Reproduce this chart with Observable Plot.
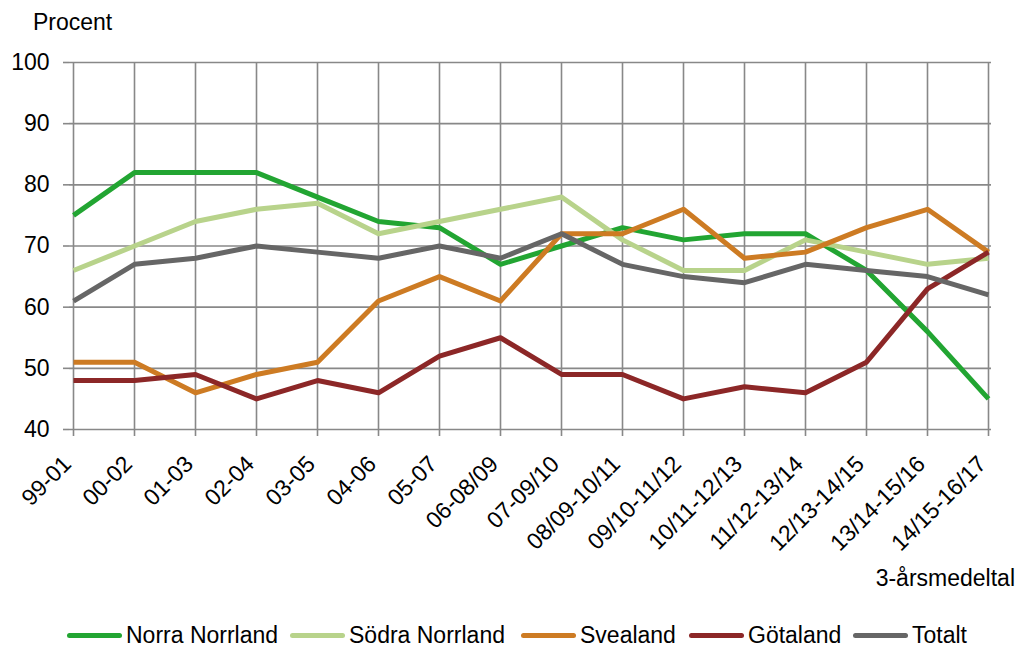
<!DOCTYPE html>
<html>
<head>
<meta charset="utf-8">
<script src="https://cdn.jsdelivr.net/npm/d3@7"></script>
<script src="https://cdn.jsdelivr.net/npm/@observablehq/plot@0.6"></script>
<style>
  html, body { margin: 0; padding: 0; background: #fff; }
  #wrap { position: relative; width: 1019px; height: 649px; font-family: "Liberation Sans", Arial, sans-serif; color: #000; overflow: hidden; }
  #chart { position: absolute; left: 0; top: 0; }
  .lbl { position: absolute; font-size: 23px; line-height: 23px; white-space: nowrap; }
  .item { position: absolute; top: 624px; height: 23px; display: flex; align-items: center; font-size: 23px; line-height: 23px; white-space: nowrap; }
  .sw { width: 55px; height: 5px; border-radius: 2.5px; margin-right: 4px; }
</style>
</head>
<body>
<div id="wrap">
  <div id="chart"></div>
  <div class="lbl" style="left:33px; top:11px;">Procent</div>
  <div class="lbl" style="right:4px; top:567px;">3-årsmedeltal</div>
  <div id="legend"></div>
</div>
<script>
const categories = ["99-01","00-02","01-03","02-04","03-05","04-06","05-07","06-08/09","07-09/10","08/09-10/11","09/10-11/12","10/11-12/13","11/12-13/14","12/13-14/15","13/14-15/16","14/15-16/17"];
const seriesNames = ["Norra Norrland","Södra Norrland","Svealand","Götaland","Totalt"];
const seriesColors = ["#22a532","#b8d38b","#cd7b23","#8c2727","#666666"];
const norraNorrland = [75,82,82,82,78,74,73,67,70,73,71,72,72,66,56,45];
const sodraNorrland = [66,70,74,76,77,72,74,76,78,71,66,66,71,69,67,68];
const svealand      = [51,51,46,49,51,61,65,61,72,72,76,68,69,73,76,69];
const gotaland      = [48,48,49,45,48,46,52,55,49,49,45,47,46,51,63,69];
const totalt        = [61,67,68,70,69,68,70,68,72,67,65,64,67,66,65,62];
const yTicks = [40,50,60,70,80,90,100];
const legendLeft = [67,290,521,689,853];

const seriesValues = [norraNorrland, sodraNorrland, svealand, gotaland, totalt];
const data = seriesNames.flatMap((name, i) =>
  seriesValues[i].map((v, j) => ({series: name, period: categories[j], value: v}))
);

const gridColor = "#888888";
const chart = Plot.plot({
  width: 1019,
  height: 600,
  marginTop: 62,
  marginLeft: 69,
  marginRight: 28,
  marginBottom: 171,
  style: {fontFamily: "'Liberation Sans', Arial, sans-serif", fontSize: "23px", color: "#000", background: "transparent"},
  x: {type: "point", domain: categories, padding: 0, label: null},
  y: {domain: [40, 100], label: null},
  color: {domain: seriesNames, range: seriesColors},
  marks: [
    Plot.gridY(yTicks, {stroke: gridColor, strokeOpacity: 1, strokeWidth: 1.6}),
    Plot.gridX(categories, {stroke: gridColor, strokeOpacity: 1, strokeWidth: 1.6}),
    Plot.axisY(yTicks, {tickSize: 6, tickPadding: 14, stroke: gridColor, strokeWidth: 1.6, fill: "#000", fontSize: 23, label: null}),
    Plot.axisX(categories, {tickSize: 7, tickFormat: () => "", stroke: gridColor, strokeWidth: 1.6, label: null}),
    Plot.text(categories, {x: d => d, frameAnchor: "bottom", dx: -1, dy: 36, rotate: -45, textAnchor: "end", lineAnchor: "bottom", fontSize: 23, fill: "#000"}),
    Plot.line(data, {x: "period", y: "value", stroke: "series", strokeWidth: 5, strokeLinejoin: "round", strokeLinecap: "butt"})
  ]
});
document.getElementById("chart").appendChild(chart);

const legend = document.getElementById("legend");
seriesNames.forEach((name, i) => {
  const item = document.createElement("div");
  item.className = "item";
  item.style.left = legendLeft[i] + "px";
  const sw = document.createElement("div");
  sw.className = "sw";
  sw.style.background = seriesColors[i];
  const t = document.createElement("span");
  t.textContent = name;
  item.appendChild(sw);
  item.appendChild(t);
  legend.appendChild(item);
});
</script>
</body>
</html>
